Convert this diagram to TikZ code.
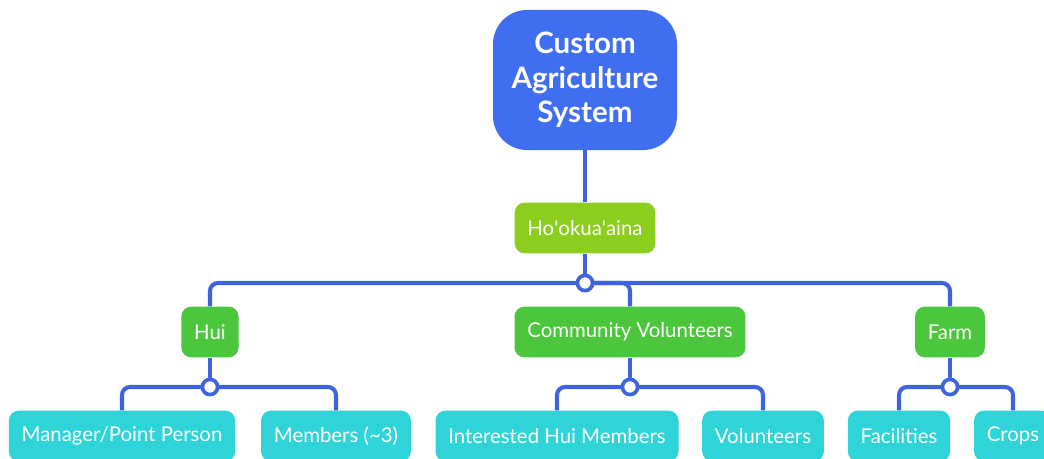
\documentclass[tikz,border=0pt]{standalone}
\usepackage{fontspec}
\setmainfont{Lato}
\definecolor{rootblue}{RGB}{64,110,240}
\definecolor{linkblue}{RGB}{62,99,224}
\definecolor{limegreen}{RGB}{139,206,30}
\definecolor{leafgreen}{RGB}{76,198,60}
\definecolor{leafcyan}{RGB}{46,212,216}

\tikzset{
  box/.style={rounded corners=0.25cm, text=white, inner xsep=0.32cm, minimum height=1.27cm, font=\fontsize{14.5}{17}\selectfont},
  rootbox/.style={fill=rootblue, rounded corners=0.85cm, text=white, minimum width=4.6cm, minimum height=3.5cm, align=center, font=\fontsize{21}{24.5}\bfseries\selectfont},
  topbox/.style={box, fill=limegreen},
  midbox/.style={box, fill=leafgreen},
  leafbox/.style={box, fill=leafcyan},
  link/.style={draw=linkblue, line width=2.9pt, rounded corners=0.2cm},
  dot/.style={circle, draw=linkblue, fill=white, line width=2.6pt, minimum size=0.38cm, inner sep=0pt}
}

\begin{document}
\begin{tikzpicture}
    \useasboundingbox (0,0) rectangle (26.1,11.45);
    \clip (0,0) rectangle (26.1,11.45);

    % boxes
    \node[rootbox] (root) at (14.625,9.45) {Custom\\Agriculture\\System};
    \node[topbox] (hoo) at (14.625,5.75) {Ho\textquotesingle okua\textquotesingle aina};

    \node[midbox] (hui) at (5.25,3.15) {Hui};
    \node[midbox] (cv) at (15.75,3.15) {Community Volunteers};
    \node[midbox] (farm) at (23.75,3.15) {Farm};

    \node[leafbox] (mgr) at (3.05,0.55) {Manager/Point Person};
    \node[leafbox] (mem) at (8.4,0.55) {Members (\textasciitilde3)};
    \node[leafbox] (ihm) at (13.925,0.55) {Interested Hui Members};
    \node[leafbox] (vol) at (19.075,0.55) {Volunteers};
    \node[leafbox] (fac) at (22.475,0.55) {Facilities};
    \node[leafbox] (crops) at (25.325,0.55) {Crops};

    % junction points
    \coordinate (j0) at (14.625,4.375);
    \coordinate (j1) at (hui.center |- 0,1.775);
    \coordinate (j2) at (cv.center |- 0,1.775);
    \coordinate (j3) at (farm.center |- 0,1.775);

    % connectors
    \draw[link] (root) -- (hoo);
    \draw[link] (hoo) -- (j0);
    \draw[link] (hui.north) |- (j0) -| (farm.north);
    \draw[link] (j0) -| (cv.north);

    \draw[link] (hui) -- (j1);
    \draw[link] (mgr.north) |- (j1) -| (mem.north);
    \draw[link] (cv) -- (j2);
    \draw[link] (ihm.north) |- (j2) -| (vol.north);
    \draw[link] (farm) -- (j3);
    \draw[link] (fac.north) |- (j3) -| (crops.north);

    \node[dot] (d0) at (j0) {};
    \node[dot] (d1) at (j1) {};
    \node[dot] (d2) at (j2) {};
    \node[dot] (d3) at (j3) {};
\end{tikzpicture}
\end{document}
